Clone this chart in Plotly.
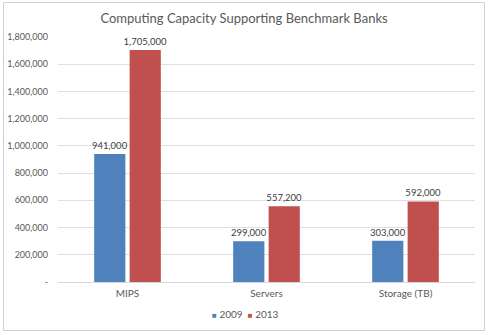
import plotly.graph_objects as go

# Chart data
categories = ["MIPS", "Servers", "Storage (TB)"]
series_names = ["2009", "2013"]
values_2009 = [941000, 299000, 303000]
values_2013 = [1705000, 557200, 592000]
y_tick_values = [0, 200000, 400000, 600000, 800000, 1000000, 1200000, 1400000, 1600000, 1800000]
y_tick_labels = ["-", "200,000", "400,000", "600,000", "800,000", "1,000,000",
                 "1,200,000", "1,400,000", "1,600,000", "1,800,000"]

colors = ["#4F81BD", "#C0504D"]
font_family = "Lato, 'Open Sans', sans-serif"

W, H = 489, 335
L, R, T, B = 58, 14, 37, 53
plot_w = W - L - R
plot_h = H - T - B

fig = go.Figure()
for name, vals, col in zip(series_names, [values_2009, values_2013], colors):
    fig.add_trace(go.Bar(
        x=categories, y=vals, name=name, marker=dict(color=col, line=dict(width=0)),
        texttemplate="%{y:,.0f}", textposition="outside", cliponaxis=False,
        constraintext="none", showlegend=False,
        textfont=dict(size=9.5, color="#404040", family=font_family),
    ))


def px_x(px):
    return (px - L) / plot_w


def px_y(py):
    return (H - B - py) / plot_h


# Outer chart frame
fig.add_shape(type="rect", xref="paper", yref="paper",
              x0=px_x(3.5), x1=px_x(484.5), y0=px_y(330.5), y1=px_y(2.5),
              line=dict(color="#D0D0D0", width=1), fillcolor="rgba(0,0,0,0)", layer="below")

# Compact legend: coloured squares followed by the series names
legend_text = "&nbsp;&nbsp;".join(
    f"<span style='color:{c};font-size:8px'>■</span> {n}" for n, c in zip(series_names, colors)
)
fig.add_annotation(text=legend_text, xref="paper", yref="paper",
                   x=px_x(245), y=px_y(314), xanchor="center", yanchor="middle",
                   showarrow=False, font=dict(size=10, color="#595959", family=font_family))

fig.update_layout(
    width=W, height=H,
    margin=dict(l=L, r=R, t=T, b=B, autoexpand=False),
    paper_bgcolor="white", plot_bgcolor="white",
    barmode="group", bargap=0.49, bargroupgap=0.12,
    title=dict(text="Computing Capacity Supporting Benchmark Banks",
               x=244 / W, xanchor="center", y=1 - 18 / H, yanchor="middle",
               font=dict(size=13, color="#595959", family=font_family)),
    font=dict(family=font_family, color="#595959", size=10),
    showlegend=False,
    xaxis=dict(showgrid=False, showline=True, linecolor="#D9D9D9", linewidth=1,
               automargin=False, ticks="", ticklabelstandoff=2,
               tickfont=dict(size=10, color="#595959")),
    yaxis=dict(range=[0, 1800000], tickvals=y_tick_values, ticktext=y_tick_labels,
               showgrid=True, gridcolor="#E0E0E0", gridwidth=1, zeroline=False,
               showline=False, ticks="", ticklen=0, ticklabelstandoff=9,
               automargin=False, tickfont=dict(size=9, color="#595959")),
)

fig.write_html("out.html")
